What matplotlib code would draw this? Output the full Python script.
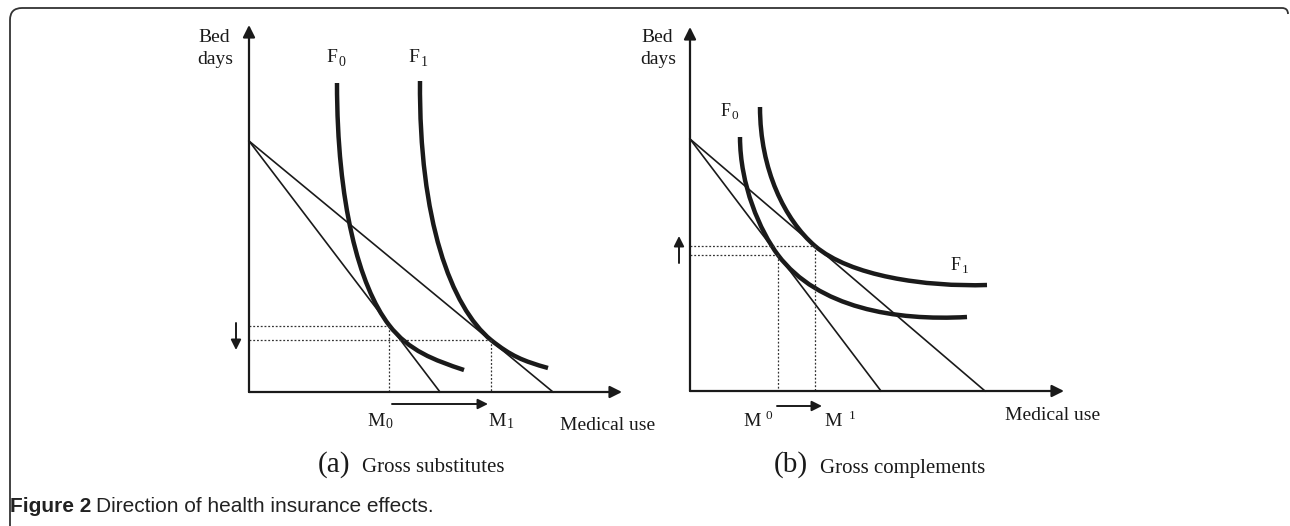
import matplotlib
matplotlib.use("Agg")
import matplotlib.pyplot as plt
from matplotlib.path import Path
from matplotlib.patches import PathPatch

# all coordinates are in pixels of the 1290x526 picture (y grows downward)
W, H = 1290, 526

# panel (a): gross substitutes
a_origin = (249, 392)
a_xaxis_end = 622
a_yaxis_end = 25
a_budget_start = (249, 141)
a_budget_ends = [440, 553]                 # x where the two budget lines hit the axis
a_F0 = [(337, 83), (337, 203), (359, 286), (389, 325),
        (409, 351), (434, 360), (464, 370)]
a_F1 = [(420, 81), (419, 220), (451, 307), (491, 340),
        (511, 356), (523, 361), (548, 368)]
a_tangent_pts = [(389, 326), (491, 340)]
a_shift_arrow = [(392, 404), (488, 404)]
a_bed_arrow = [(236, 323), (236, 350)]

# panel (b): gross complements
b_origin = (690, 391)
b_xaxis_end = 1064
b_yaxis_end = 27
b_budget_start = (690, 139)
b_budget_ends = [881, 985]
b_F0 = [(740, 137), (740, 185), (760, 231), (778, 255),
        (818, 308), (895, 321), (967, 317)]
b_F1 = [(760, 107), (760, 170), (785, 220), (815, 246),
        (850, 276), (925, 287), (987, 285)]
b_tangent_pts = [(778, 255), (815, 246)]
b_shift_arrow = [(777, 406), (822, 406)]
b_bed_arrow = [(679, 263), (679, 236)]

serif = "Liberation Serif"


def curve(ax, pts, lw=3.2):
    codes = [Path.MOVETO] + [Path.CURVE4] * (len(pts) - 1)
    ax.add_patch(PathPatch(Path(pts, codes), fill=False, lw=lw,
                           edgecolor="#1a1a1a", capstyle="butt"))


def arrow(ax, start, end, lw=1.4, scale=16):
    ax.annotate("", xy=end, xytext=start,
                arrowprops=dict(arrowstyle="-|>", lw=lw, color="#1a1a1a",
                                mutation_scale=scale, shrinkA=0, shrinkB=0))


def panel(ax, origin, xend, yend, bstart, bends, F0, F1, tang, shift, bed):
    ox, oy = origin
    # axes with arrow heads
    arrow(ax, (ox, oy), (ox, yend), lw=1.6, scale=18)
    arrow(ax, (ox, oy), (xend, oy), lw=1.6, scale=18)
    # budget lines
    for bx in bends:
        ax.plot([bstart[0], bx], [bstart[1], oy], color="#1a1a1a", lw=1.2)
    curve(ax, F0)
    curve(ax, F1)
    # dotted guides to the tangency points
    for tx, ty in tang:
        ax.plot([ox, tx], [ty, ty], color="#333333", lw=0.9, ls=(0, (1.5, 1.5)))
        ax.plot([tx, tx], [ty, oy], color="#333333", lw=0.9, ls=(0, (1.5, 1.5)))
    arrow(ax, shift[0], shift[1], lw=1.4, scale=15)
    arrow(ax, bed[0], bed[1], lw=1.4, scale=15)


fig = plt.figure(figsize=(W / 100, H / 100), dpi=100)
ax = fig.add_axes([0, 0, 1, 1])
ax.set_xlim(0, W)
ax.set_ylim(H, 0)
ax.axis("off")

# outer frame with a rounded top-left corner
frame = Path([(10, 526), (10, 20), (10, 8), (22, 8), (1282, 8), (1288, 8), (1288, 14)],
             [Path.MOVETO, Path.LINETO, Path.CURVE3, Path.CURVE3, Path.LINETO,
              Path.CURVE3, Path.CURVE3])
ax.add_patch(PathPatch(frame, fill=False, lw=1.3, edgecolor="#333333"))

panel(ax, a_origin, a_xaxis_end, a_yaxis_end, a_budget_start, a_budget_ends,
      a_F0, a_F1, a_tangent_pts, a_shift_arrow, a_bed_arrow)
panel(ax, b_origin, b_xaxis_end, b_yaxis_end, b_budget_start, b_budget_ends,
      b_F0, b_F1, b_tangent_pts, b_shift_arrow, b_bed_arrow)

txt = dict(family=serif, color="#1a1a1a")

# panel (a) labels
ax.text(214, 37, "Bed", ha="center", va="center", fontsize=14, **txt)
ax.text(215, 60, "days", ha="center", va="center", fontsize=14, **txt)
ax.text(332, 58, "F", ha="center", va="center", fontsize=14, **txt)
ax.text(342, 62, "0", ha="center", va="center", fontsize=10, **txt)
ax.text(414, 58, "F", ha="center", va="center", fontsize=14, **txt)
ax.text(424, 62, "1", ha="center", va="center", fontsize=10, **txt)
ax.text(376, 422, "M", ha="center", va="center", fontsize=14, **txt)
ax.text(389, 425, "0", ha="center", va="center", fontsize=10, **txt)
ax.text(497, 422, "M", ha="center", va="center", fontsize=14, **txt)
ax.text(510, 425, "1", ha="center", va="center", fontsize=10, **txt)
ax.text(560, 425, "Medical use", ha="left", va="center", fontsize=14, **txt)
ax.text(350, 465, "(a)", ha="right", va="center", fontsize=21, **txt)
ax.text(362, 468, "Gross substitutes", ha="left", va="center", fontsize=15, **txt)

# panel (b) labels
ax.text(657, 37, "Bed", ha="center", va="center", fontsize=14, **txt)
ax.text(658, 60, "days", ha="center", va="center", fontsize=14, **txt)
ax.text(726, 112, "F", ha="center", va="center", fontsize=13, **txt)
ax.text(735, 116, "0", ha="center", va="center", fontsize=9.5, **txt)
ax.text(956, 266, "F", ha="center", va="center", fontsize=13, **txt)
ax.text(965, 270, "1", ha="center", va="center", fontsize=9.5, **txt)
ax.text(752, 421, "M", ha="center", va="center", fontsize=14, **txt)
ax.text(769, 416, "0", ha="center", va="center", fontsize=9.5, **txt)
ax.text(833, 421, "M", ha="center", va="center", fontsize=14, **txt)
ax.text(852, 416, "1", ha="center", va="center", fontsize=9.5, **txt)
ax.text(1005, 415, "Medical use", ha="left", va="center", fontsize=14, **txt)
ax.text(808, 465, "(b)", ha="right", va="center", fontsize=21, **txt)
ax.text(820, 468, "Gross complements", ha="left", va="center", fontsize=15, **txt)

# caption
ax.text(10, 507, "Figure 2", ha="left", va="center", fontsize=15,
        family="Liberation Sans", weight="bold", color="#222222")
ax.text(96, 507, "Direction of health insurance effects.", ha="left", va="center",
        fontsize=15, family="Liberation Sans", color="#222222")

fig.savefig("out.png", dpi=100)
